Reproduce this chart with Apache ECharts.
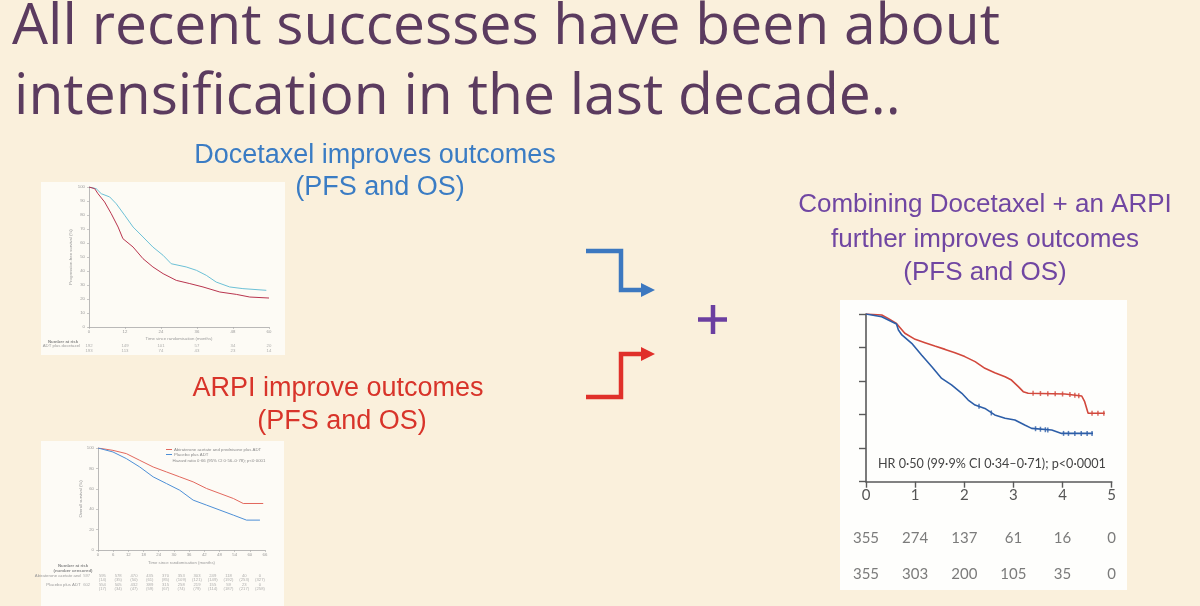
<!DOCTYPE html>
<html><head><meta charset="utf-8">
<script src="https://cdn.jsdelivr.net/npm/echarts@6/dist/echarts.min.js"></script>
<style>html,body{margin:0;padding:0;background:#faf0dc}#c{width:1200px;height:606px}</style>
</head><body><div id="c"></div><script>
// ---------- texts ----------
const titleLines = ['All recent successes have been about', 'intensification in the last decade..'];
const docTexts = ['Docetaxel improves outcomes', '(PFS and OS)'];
const arpiTexts = ['ARPI improve outcomes', '(PFS and OS)'];
const comboTexts = ['Combining Docetaxel + an ARPI', 'further improves outcomes', '(PFS and OS)'];

// ---------- chart A : docetaxel (PFS, %) ----------
const aXTicks = [0, 12, 24, 36, 48, 60];
const aDocetaxel = [[0,100],[2.4,98.8],[4.1,95.2],[6.9,92.9],[9.1,88],[11.9,79.8],[14.7,71.4],[18,64.3],[21.3,57.1],[24.7,51.2],[27.4,45.2],[32.4,42.9],[35.8,40.5],[39.1,36.9],[42.4,32.1],[46.9,28.6],[51.3,27.4],[59.1,26.2]];
const aAdtAlone = [[0,100],[1.9,98.8],[3,95.2],[5.2,89.3],[7.4,81],[9.7,71.4],[11.3,63.1],[14.7,57.1],[18,48.8],[21.3,42.9],[24.7,38.1],[29.1,33.3],[33.6,31],[38,28.6],[43.6,25],[49.1,23.3],[53.6,21.4],[60,20.7]];
const aRiskNames = ['ADT plus docetaxel', 'ADT alone'];
const aRiskDoc = [192, 149, 101, 57, 34, 20];
const aRiskAdt = [193, 113, 74, 43, 23, 14];

// ---------- chart B : abiraterone (OS, %) ----------
const bXTicks = [0, 6, 12, 18, 24, 30, 36, 42, 48, 54, 60, 66];
const bAbi = [[0,100],[5.9,97.7],[11.2,94.5],[16.5,87.9],[21.8,81.4],[27.1,76.5],[32.3,71.7],[37.6,66.8],[42.9,60.3],[48.2,55.4],[53.5,50.5],[57.4,45.6],[65.3,45.6]];
const bPlacebo = [[0,100],[5.9,96.1],[11.2,89.6],[16.5,81.4],[21.8,71.7],[27.1,65.1],[32.3,58.6],[37.6,48.9],[42.9,44],[48.2,39.1],[53.5,34.2],[58.7,29.3],[64,29.3]];
const bNames = ['Abiraterone acetate and prednisone plus ADT', 'Placebo plus ADT'];
const bHR = 'Hazard ratio 0·66 (95% CI 0·56–0·78); p<0·0001';
const bRiskNames = ['Abiraterone acetate and', 'prednisone plus ADT', 'Placebo plus ADT', ''];
const bRiskAbi = [597, 595, 578, 470, 435, 370, 353, 303, 249, 118, 40, 0];
const bCensAbi = [14, 35, 50, 61, 85, 109, 121, 149, 192, 253, 327];
const bRiskPla = [602, 554, 505, 432, 389, 315, 258, 219, 155, 59, 23, 0];
const bCensPla = [17, 34, 47, 59, 67, 74, 79, 114, 187, 217, 258];

// ---------- chart C : docetaxel + ARPI (rPFS, fraction) ----------
const cXTicks = [0, 1, 2, 3, 4, 5];
const cCombo = [[0,1],[0.32,0.994],[0.45,0.974],[0.62,0.944],[0.79,0.885],[1.0,0.849],[1.2,0.829],[1.4,0.809],[1.61,0.789],[1.81,0.769],[2.01,0.746],[2.22,0.716],[2.42,0.676],[2.62,0.65],[2.83,0.626],[2.96,0.606],[3.1,0.567],[3.2,0.537],[3.3,0.527],[4.05,0.523],[4.39,0.511],[4.45,0.477],[4.52,0.408],[4.86,0.408]];
const cDoc = [[0,1],[0.32,0.984],[0.62,0.94],[0.66,0.905],[0.73,0.875],[0.93,0.825],[1.13,0.755],[1.34,0.686],[1.54,0.616],[1.74,0.577],[1.95,0.527],[2.08,0.487],[2.22,0.457],[2.42,0.437],[2.62,0.398],[2.83,0.378],[3.03,0.368],[3.23,0.338],[3.37,0.318],[3.78,0.308],[3.98,0.288],[4.62,0.288]];
const cComboCens = [[3.4,0.527],[3.55,0.526],[3.7,0.525],[3.85,0.524],[4.0,0.523],[4.15,0.52],[4.25,0.516],[4.33,0.513],[4.6,0.408],[4.72,0.408],[4.84,0.408]];
const cDocCens = [[2.3,0.45],[2.55,0.41],[3.45,0.316],[3.55,0.313],[3.65,0.31],[3.7,0.308],[4.02,0.288],[4.12,0.288],[4.25,0.288],[4.38,0.288],[4.5,0.288],[4.6,0.288]];
const cHR = 'HR 0·50 (99·9% CI 0·34–0·71); p<0·0001';
const cRiskCombo = [355, 274, 137, 61, 16, 0];
const cRiskDoc = [355, 303, 200, 105, 35, 0];

// ---------- build ----------
const chart = echarts.init(document.getElementById('c'));
const small = {fontSize: 4.3, color: '#9a9a9a', fontFamily: 'Liberation Sans'};
const thinAxis = {lineStyle: {color: '#a8a8a8', width: 0.8}};

function riskData(ticks, arr, row, fmt) {
  return arr.map((n, i) => [ticks[i], row, n, fmt]);
}
function riskSeries(xi, data, fontSize, color, family) {
  return {type: 'scatter', xAxisIndex: xi, yAxisIndex: xi, data: data, symbolSize: 1,
    itemStyle: {color: 'transparent'}, silent: true,
    label: {show: true, position: 'inside', fontSize: fontSize, color: color, fontFamily: family || 'Liberation Sans',
      formatter: p => p.value[3] ? '(' + p.value[2] + ')' : String(p.value[2])}};
}

const bCensData = [].concat(
  bCensAbi.map((n, i) => [bXTicks[i + 1], 1, n, 1]),
  bCensPla.map((n, i) => [bXTicks[i + 1], 3, n, 1]));

const titleFont = {fill: '#5b3b5f', fontSize: 57, fontFamily: 'Open Sans', verticalAlign: 'middle'};
const subFont = {fontFamily: 'Liberation Sans', align: 'center', verticalAlign: 'middle'};

const option = {
  backgroundColor: '#faf0dc',
  animation: false,
  legend: [{
    data: bNames, orient: 'vertical', left: 166, top: 447.5, itemGap: 1, padding: 0,
    itemWidth: 6, itemHeight: 1, icon: 'rect', selectedMode: false,
    textStyle: {fontSize: 4.3, color: '#8a8a8a', fontFamily: 'Liberation Sans', padding: [0, 0, 0, -3]}
  }],
  grid: [
    {left: 89, top: 187, width: 180, height: 140},
    {left: 89, top: 343.5, width: 180, height: 10},
    {left: 98, top: 448, width: 167, height: 102},
    {left: 86.7, top: 573.3, width: 173.3, height: 18},
    {left: 866, top: 314, width: 245.7, height: 167.7},
    {left: 866, top: 520, width: 245.7, height: 72}
  ],
  xAxis: [
    {gridIndex: 0, type: 'value', min: 0, max: 60, interval: 12, axisLine: thinAxis,
      axisTick: {length: 2, lineStyle: {color: '#a8a8a8', width: 0.6}}, splitLine: {show: false},
      axisLabel: Object.assign({margin: 3}, small),
      name: 'Time since randomisation (months)', nameLocation: 'middle', nameGap: 10, nameTextStyle: small},
    {gridIndex: 1, type: 'value', min: 0, max: 60, show: false},
    {gridIndex: 2, type: 'value', min: 0, max: 66, interval: 6, axisLine: thinAxis,
      axisTick: {length: 2, lineStyle: {color: '#a8a8a8', width: 0.6}}, splitLine: {show: false},
      axisLabel: Object.assign({margin: 3}, small),
      name: 'Time since randomisation (months)', nameLocation: 'middle', nameGap: 11, nameTextStyle: small},
    {gridIndex: 3, type: 'value', min: 0, max: 66, show: false},
    {gridIndex: 4, type: 'value', min: 0, max: 5, interval: 1,
      axisLine: {lineStyle: {color: '#5a5a5a', width: 1.6}},
      axisTick: {length: 6, lineStyle: {color: '#5a5a5a', width: 1.4}}, splitLine: {show: false},
      axisLabel: {fontSize: 15, color: '#555', margin: 6, fontFamily: 'Lato'}},
    {gridIndex: 5, type: 'value', min: 0, max: 5, show: false}
  ],
  yAxis: [
    {gridIndex: 0, type: 'value', min: 0, max: 100, interval: 10, axisLine: Object.assign({show: true}, thinAxis),
      axisTick: {show: true, length: 2, lineStyle: {color: '#a8a8a8', width: 0.6}}, splitLine: {show: false},
      axisLabel: Object.assign({margin: 4}, small),
      name: 'Progression-free survival (%)', nameLocation: 'middle', nameGap: 16, nameTextStyle: small},
    {gridIndex: 1, type: 'category', data: aRiskNames, inverse: true,
      axisLine: {show: false}, axisTick: {show: false}, axisLabel: Object.assign({margin: 9}, small)},
    {gridIndex: 2, type: 'value', min: 0, max: 100, interval: 20, axisLine: Object.assign({show: true}, thinAxis),
      axisTick: {show: true, length: 2, lineStyle: {color: '#a8a8a8', width: 0.6}}, splitLine: {show: false},
      axisLabel: Object.assign({margin: 4}, small),
      name: 'Overall survival (%)', nameLocation: 'middle', nameGap: 14, nameTextStyle: small},
    {gridIndex: 3, type: 'category', data: bRiskNames, inverse: true,
      axisLine: {show: false}, axisTick: {show: false}, axisLabel: Object.assign({margin: 6}, small)},
    {gridIndex: 4, type: 'value', min: 0, max: 1, interval: 0.2,
      axisLine: {show: true, lineStyle: {color: '#5a5a5a', width: 1.6}},
      axisTick: {show: true, length: 7, lineStyle: {color: '#5a5a5a', width: 1.4}},
      axisLabel: {show: false}, splitLine: {show: false}},
    {gridIndex: 5, type: 'category', data: ['a', 'b'], inverse: true, show: false}
  ],
  series: [
    {name: 'ADT plus docetaxel', type: 'line', xAxisIndex: 0, yAxisIndex: 0, data: aDocetaxel, showSymbol: false,
      lineStyle: {color: '#6cc0d6', width: 1}, itemStyle: {color: '#6cc0d6'}},
    {name: 'ADT alone', type: 'line', xAxisIndex: 0, yAxisIndex: 0, data: aAdtAlone, showSymbol: false,
      lineStyle: {color: '#b8344e', width: 1}, itemStyle: {color: '#b8344e'}},
    riskSeries(1, riskData(aXTicks, aRiskDoc, 0, 0).concat(riskData(aXTicks, aRiskAdt, 1, 0)), 4.3, '#9a9a9a'),
    {name: bNames[0], type: 'line', xAxisIndex: 2, yAxisIndex: 2, data: bAbi, showSymbol: false,
      lineStyle: {color: '#e2685e', width: 1}, itemStyle: {color: '#e2685e'}},
    {name: bNames[1], type: 'line', xAxisIndex: 2, yAxisIndex: 2, data: bPlacebo, showSymbol: false,
      lineStyle: {color: '#4d8fd6', width: 1}, itemStyle: {color: '#4d8fd6'}},
    riskSeries(3, riskData(bXTicks, bRiskAbi, 0, 0).concat(riskData(bXTicks, bRiskPla, 2, 0), bCensData), 4.2, '#9a9a9a'),
    {name: 'Docetaxel + abiraterone', type: 'line', xAxisIndex: 4, yAxisIndex: 4, data: cCombo, showSymbol: false,
      lineStyle: {color: '#d2483c', width: 1.6}, itemStyle: {color: '#d2483c'}},
    {name: 'Docetaxel', type: 'line', xAxisIndex: 4, yAxisIndex: 4, data: cDoc, showSymbol: false,
      lineStyle: {color: '#2d5ea8', width: 1.6}, itemStyle: {color: '#2d5ea8'}},
    {name: 'cens1', type: 'scatter', xAxisIndex: 4, yAxisIndex: 4, data: cComboCens, symbol: 'rect',
      symbolSize: [1.5, 5], itemStyle: {color: '#d2483c'}},
    {name: 'cens2', type: 'scatter', xAxisIndex: 4, yAxisIndex: 4, data: cDocCens, symbol: 'rect',
      symbolSize: [1.5, 5], itemStyle: {color: '#2d5ea8'}},
    riskSeries(5, riskData(cXTicks, cRiskCombo, 0, 0).concat(riskData(cXTicks, cRiskDoc, 1, 0)), 15, '#5a5a5a', 'Lato')
  ],
  graphic: [
    // image backgrounds
    {type: 'rect', z: -10, shape: {x: 41, y: 182, width: 244, height: 173}, style: {fill: '#fdfbf5'}},
    {type: 'rect', z: -10, shape: {x: 41, y: 441, width: 243, height: 165}, style: {fill: '#fdfbf6'}},
    {type: 'rect', z: -10, shape: {x: 840, y: 300, width: 287, height: 290}, style: {fill: '#fefefc'}},
    // title
    {type: 'text', x: 12, y: 28, style: Object.assign({text: titleLines[0]}, titleFont)},
    {type: 'text', x: 14, y: 98, style: Object.assign({text: titleLines[1]}, titleFont)},
    // subtitles
    {type: 'text', x: 375, y: 156, style: Object.assign({text: docTexts[0], fill: '#3a7cc4', fontSize: 27}, subFont)},
    {type: 'text', x: 380, y: 188, style: Object.assign({text: docTexts[1], fill: '#3a7cc4', fontSize: 27}, subFont)},
    {type: 'text', x: 338, y: 389, style: Object.assign({text: arpiTexts[0], fill: '#d8342a', fontSize: 27}, subFont)},
    {type: 'text', x: 342, y: 422, style: Object.assign({text: arpiTexts[1], fill: '#d8342a', fontSize: 27}, subFont)},
    {type: 'text', x: 985, y: 205, style: Object.assign({text: comboTexts[0], fill: '#7046a2', fontSize: 26}, subFont)},
    {type: 'text', x: 985, y: 239.5, style: Object.assign({text: comboTexts[1], fill: '#7046a2', fontSize: 26}, subFont)},
    {type: 'text', x: 985, y: 273, style: Object.assign({text: comboTexts[2], fill: '#7046a2', fontSize: 26}, subFont)},
    // arrows and plus
    {type: 'polyline', shape: {points: [[586,251],[621,251],[621,290],[643,290]]}, style: {stroke: '#3c78c0', lineWidth: 4.5, fill: null}},
    {type: 'polygon', shape: {points: [[641,283],[655,290],[641,297]]}, style: {fill: '#3c78c0'}},
    {type: 'polyline', shape: {points: [[586,397],[621,397],[621,354],[643,354]]}, style: {stroke: '#e0302a', lineWidth: 4.5, fill: null}},
    {type: 'polygon', shape: {points: [[641,347],[655,354],[641,361]]}, style: {fill: '#e0302a'}},
    {type: 'line', shape: {x1: 698, y1: 319.5, x2: 727, y2: 319.5}, style: {stroke: '#6b3fa0', lineWidth: 4.5}},
    {type: 'line', shape: {x1: 713, y1: 305, x2: 713, y2: 334}, style: {stroke: '#6b3fa0', lineWidth: 4.5}},
    // chart annotations
    {type: 'text', x: 878, y: 464, style: {text: cHR, fill: '#444', fontSize: 12.6, fontFamily: 'Lato', verticalAlign: 'middle'}},
    {type: 'text', x: 172.5, y: 461, style: {text: bHR, fill: '#8a8a8a', fontSize: 4.3, fontFamily: 'Liberation Sans', verticalAlign: 'middle'}},
    {type: 'text', x: 48, y: 341.5, style: {text: 'Number at risk', fill: '#888', fontSize: 4.3, fontWeight: 'bold', fontFamily: 'Liberation Sans', verticalAlign: 'middle'}},
    {type: 'text', x: 73, y: 566, style: {text: 'Number at risk', fill: '#888', fontSize: 4.3, fontWeight: 'bold', fontFamily: 'Liberation Sans', align: 'center', verticalAlign: 'middle'}},
    {type: 'text', x: 73, y: 571, style: {text: '(number censored)', fill: '#888', fontSize: 4.3, fontWeight: 'bold', fontFamily: 'Liberation Sans', align: 'center', verticalAlign: 'middle'}}
  ]
};
chart.setOption(option);
</script></body></html>
